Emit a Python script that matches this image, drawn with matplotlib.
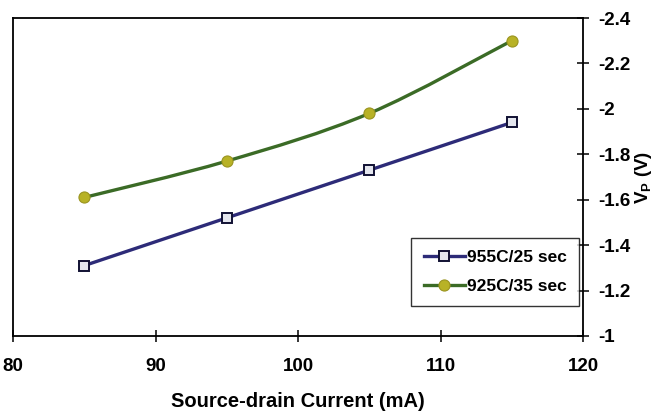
import matplotlib
matplotlib.use("Agg")
import matplotlib.pyplot as plt
from matplotlib.path import Path
from matplotlib.patches import PathPatch
from matplotlib.lines import Line2D

plt.rcParams['font.family'] = ['Liberation Sans', 'DejaVu Sans']
plt.rcParams['mathtext.fontset'] = 'custom'
plt.rcParams['mathtext.rm'] = 'Liberation Sans:bold'
plt.rcParams['mathtext.bf'] = 'Liberation Sans:bold'
plt.rcParams['mathtext.it'] = 'Liberation Sans:bold'

# Source-drain current (mA)
current = [85, 95, 105, 115]
# Pinch-off voltage for each anneal condition (V)
vp_955c_25s = [-1.31, -1.52, -1.73, -1.94]
vp_925c_35s = [-1.61, -1.77, -1.98, -2.30]

series_labels = ["955C/25 sec", "925C/35 sec"]
x_ticks = [80, 90, 100, 110, 120]
y_ticks = [-1, -1.2, -1.4, -1.6, -1.8, -2, -2.2, -2.4]

blue = "#2d2b78"
green = "#3b6b26"
olive = "#b8b226"


def smooth_path(xs, ys):
    """Cubic Bezier path through the points (Catmull-Rom style smoothing)."""
    pts = list(zip(xs, ys))
    n = len(pts)
    verts = [pts[0]]
    codes = [Path.MOVETO]
    for i in range(n - 1):
        p0 = pts[i - 1] if i > 0 else pts[i]
        p1 = pts[i]
        p2 = pts[i + 1]
        p3 = pts[i + 2] if i + 2 < n else pts[i + 1]
        c1 = (p1[0] + (p2[0] - p0[0]) / 6, p1[1] + (p2[1] - p0[1]) / 6)
        c2 = (p2[0] - (p3[0] - p1[0]) / 6, p2[1] - (p3[1] - p1[1]) / 6)
        verts += [c1, c2, p2]
        codes += [Path.CURVE4] * 3
    return Path(verts, codes)


fig = plt.figure(figsize=(6.55, 4.13), dpi=100)
ax = fig.add_axes([13 / 655, 1 - 336 / 413, (583 - 13) / 655, (336 - 18) / 413])

# 955C / 25 sec: straight segments with square markers
ax.plot(current, vp_955c_25s, color=blue, lw=2.4, marker='s', markersize=7,
        markerfacecolor='#e4e6ee', markeredgecolor='#111133', markeredgewidth=1.4,
        zorder=3)

# 925C / 35 sec: smoothed line with round markers
ax.add_patch(PathPatch(smooth_path(current, vp_925c_35s), fill=False,
                       edgecolor=green, lw=2.4, zorder=3))
ax.plot(current, vp_925c_35s, linestyle='none', marker='o', markersize=8,
        markerfacecolor=olive, markeredgecolor='#9a9420', markeredgewidth=0.8,
        zorder=4)

ax.set_xlim(80, 120)
ax.set_ylim(-1, -2.4)
ax.set_xticks(x_ticks)
ax.set_yticks(y_ticks)
ax.set_yticklabels([f"{v:g}" for v in y_ticks])

ax.yaxis.tick_right()
ax.yaxis.set_label_position('right')
ax.tick_params(axis='both', direction='inout', length=8, width=1.1,
               labelsize=13.5, colors='black')
ax.tick_params(axis='x', pad=12)
ax.tick_params(axis='y', pad=7)
for lab in ax.get_xticklabels() + ax.get_yticklabels():
    lab.set_fontweight('bold')

for sp in ax.spines.values():
    sp.set_color('black')
    sp.set_linewidth(1.3)

ax.set_xlabel("Source-drain Current (mA)", fontsize=14.5, fontweight='bold',
              labelpad=12)
ax.set_ylabel(r"V$_\mathrm{P}$ (V)", fontsize=13.5, fontweight='bold',
              labelpad=2)

handles = [
    Line2D([], [], color=blue, lw=2.4, marker='s', markersize=7,
           markerfacecolor='#e4e6ee', markeredgecolor='#111133',
           markeredgewidth=1.4),
    Line2D([], [], color=green, lw=2.4, marker='o', markersize=8,
           markerfacecolor=olive, markeredgecolor='#9a9420',
           markeredgewidth=0.8),
]
leg = ax.legend(handles, series_labels, loc='lower right',
                bbox_to_anchor=(0.993, 0.095), frameon=True, fancybox=False,
                edgecolor='black', prop={'weight': 'bold', 'size': 12.5},
                handlelength=2.4, handletextpad=0.1, borderpad=0.7,
                labelspacing=0.75, borderaxespad=0)
leg.get_frame().set_linewidth(1.0)

fig.savefig("out.png", dpi=100, facecolor='white')
